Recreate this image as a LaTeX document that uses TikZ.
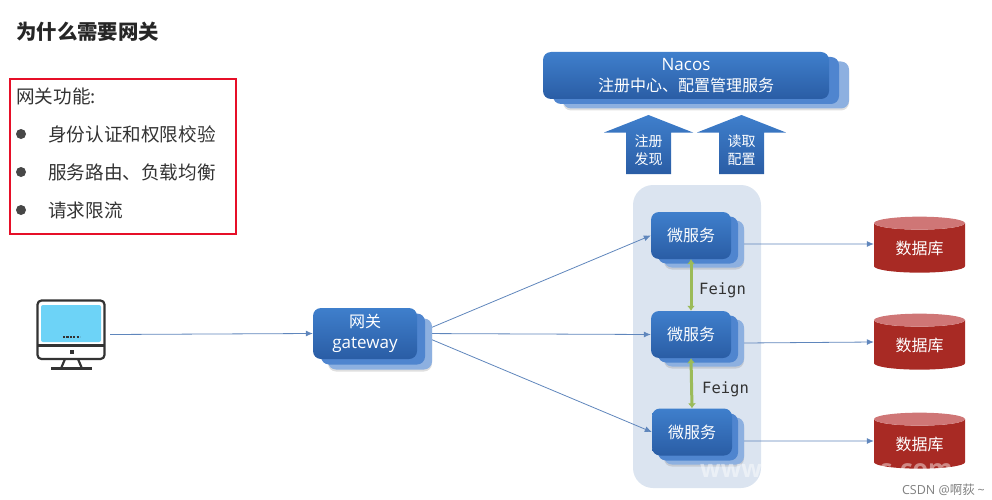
\documentclass[tikz,border=0pt]{standalone}
\usepackage{fontspec}
\setmainfont{Noto Sans CJK SC}
\newfontfamily\latinfont{Open Sans}
\newfontfamily\codefont{DejaVu Sans Mono}
\usetikzlibrary{arrows.meta,shapes.geometric,backgrounds,shadows}

\definecolor{frontblue}{HTML}{3F7FCC}
\definecolor{deepblue}{HTML}{2A5DA5}
\definecolor{midblue}{HTML}{4F85CF}
\definecolor{rearblue}{HTML}{8DB0E0}
\definecolor{panelblue}{HTML}{DBE4F0}
\definecolor{linkblue}{HTML}{5F86BC}
\definecolor{feigngreen}{HTML}{9BBB59}
\definecolor{dbred}{HTML}{A82A24}
\definecolor{dbtop}{HTML}{CF7676}
\definecolor{alertred}{HTML}{E60F28}
\definecolor{inkgray}{HTML}{333333}
\definecolor{screencyan}{HTML}{6DD3F7}

\tikzset{
    box/.style={rounded corners=8pt, inner sep=0pt, text=white, align=center, font=\fontsize{16}{21}\selectfont},
    frontbox/.style={box, top color=frontblue, bottom color=deepblue},
    midbox/.style={box, fill=midblue},
    rearbox/.style={box, fill=rearblue, drop shadow={shadow xshift=0pt, shadow yshift=-2pt, opacity=.25}},
    svcsize/.style={minimum width=80pt, minimum height=47pt},
    gwsize/.style={minimum width=104pt, minimum height=51pt},
    nacossize/.style={minimum width=286pt, minimum height=47pt},
    dbnode/.style={cylinder, shape border rotate=90, aspect=.27, cylinder uses custom fill, cylinder body fill=dbred, cylinder end fill=dbtop, draw=none, inner sep=0pt, minimum width=91pt, minimum height=56pt, text=white, font=\fontsize{16}{20}\selectfont},
    link/.style={draw=linkblue, line width=.8pt, -{Latex[length=7pt,width=6pt]}},
    feignlink/.style={draw=feigngreen, line width=3pt, {Latex[length=5pt,width=8pt]}-{Latex[length=5pt,width=8pt]}},
    feigntext/.style={text=inkgray, font=\codefont\fontsize{15.5}{18}\selectfont},
    uparrow/.style={top color=frontblue, bottom color=deepblue},
    listtext/.style={anchor=west, inner sep=0pt, text=inkgray, font=\fontsize{18.6}{22}\selectfont},
    bulletdot/.style={circle, fill=inkgray!90, inner sep=0pt, minimum size=10pt},
    arrowtext/.style={text=white, align=center, font=\fontsize{14}{18}\selectfont},
    monitorline/.style={draw=inkgray, line width=2.2pt},
    washtext/.style={anchor=base west, inner sep=0pt, text=white, text opacity=.45, font=\latinfont\bfseries}
}

\begin{document}
\begin{tikzpicture}[x=1pt,y=-1pt]
    \useasboundingbox (0,0) rectangle (992,500);

    % title and feature list
    \node[anchor=west, inner sep=0pt, text=black!85, font=\fontsize{20.4}{24}\selectfont\bfseries] (title) at (16,32) {为什么需要网关};
    \node[draw=alertred, line width=1.8pt, minimum width=226pt, minimum height=155pt, inner sep=0pt] (featurebox) at (123,156.5) {};
    \node[listtext] (featurehead) at (16,96) {网关功能:};
    \node[bulletdot] (dota) at (21,134) {};
    \node[bulletdot] (dotb) at (21,172) {};
    \node[bulletdot] (dotc) at (21,210) {};
    \node[listtext] (featurea) at (48,134) {身份认证和权限校验};
    \node[listtext] (featureb) at (48,172) {服务路由、负载均衡};
    \node[listtext] (featurec) at (48,210) {请求限流};

    % nacos
    \node[rearbox, nacossize] (nacosrear) at (706,85) {};
    \node[midbox, nacossize] (nacosmid) at (696,80.5) {};
    \node[frontbox, nacossize] (nacos) at (686,75.5) {{\latinfont\fontsize{17}{21}\selectfont Nacos}\\注册中心、配置管理服务};

    \shade[uparrow] (648.5,115) -- (693,132.5) -- (671,132.5) -- (671,174) -- (626,174) -- (626,132.5) -- (604,132.5) -- cycle;
    \shade[uparrow] (741.5,115) -- (786,132.5) -- (764,132.5) -- (764,174) -- (719,174) -- (719,132.5) -- (697,132.5) -- cycle;
    \node[arrowtext] (regtext) at (648.5,150) {注册\\发现};
    \node[arrowtext] (cfgtext) at (741.5,150) {读取\\配置};

    % microservices
    \node[rearbox, svcsize] (svcarear) at (704,244) {};
    \node[midbox, svcsize] (svcamid) at (698,240) {};
    \node[frontbox, svcsize] (svca) at (691,235.5) {微服务};
    \node[rearbox, svcsize] (svcbrear) at (704,343) {};
    \node[midbox, svcsize] (svcbmid) at (698,339) {};
    \node[frontbox, svcsize] (svcb) at (691,334.5) {微服务};
    \node[rearbox, svcsize] (svccrear) at (704,441) {};
    \node[midbox, svcsize] (svccmid) at (698,437) {};
    \node[frontbox, svcsize] (svcc) at (692,432) {微服务};

    % gateway
    \node[rearbox, gwsize] (gwrear) at (380,344) {};
    \node[midbox, gwsize] (gwmid) at (373,339) {};
    \node[frontbox, gwsize] (gw) at (365,333.5) {网关\\{\latinfont\fontsize{17}{21}\selectfont gateway}};

    % databases
    \node[dbnode] (dba) at (919.5,248) {数据库};
    \node[dbnode] (dbb) at (919.5,345) {数据库};
    \node[dbnode] (dbc) at (919.5,444) {数据库};

    % client
    \node[minimum width=78pt, minimum height=70pt, inner sep=0pt] (client) at (71,334.5) {};
    \filldraw[monitorline, fill=white, rounded corners=4pt] (37.5,300.5) rectangle (104.5,359);
    \fill[screencyan, rounded corners=2pt] (41,305) -- (101,305) -- (101,342) -- (41,342) -- cycle;
    \draw[monitorline] (37.5,345.5) -- (104.5,345.5);
    \fill[inkgray] (69.5,349.5) rectangle (73.5,354);
    \draw[monitorline] (65,359) -- (61,368.5);
    \draw[monitorline] (78,359) -- (82,368.5);
    \draw[monitorline] (51,368.5) -- (92,368.5);
    \draw[inkgray, line width=2pt, dash pattern=on 2.2pt off 1.2pt] (63,337) -- (80,337);

    \begin{pgfonlayer}{background}
        \fill[panelblue, rounded corners=20pt] (633,185) rectangle (761,488);
        \draw[link] (gw.east) -- (svca.west);
        \draw[link] (gw.east) -- (svcb.west);
        \draw[link] (gw.east) -- (svcc.west);
        \draw[link] (svcarear.east) -- ([yshift=4pt]dba.west);
        \draw[link] (svcbrear.east) -- ([yshift=3pt]dbb.west);
        \draw[link] (svccrear.east) -- ([yshift=3pt]dbc.west);
    \end{pgfonlayer}
    \draw[link] (client.east) -- (gw.west);

    \draw[feignlink] (svca.south) -- (svcb.north);
    \draw[feignlink] (svcb.south) -- (svcc.north);
    \node[feigntext, anchor=west, inner sep=0pt] (feigna) at (699,290) {Feign};
    \node[feigntext, anchor=west, inner sep=0pt] (feignb) at (702,389) {Feign};

    % faded site mark across the bottom
    \node[washtext, font=\latinfont\bfseries\fontsize{24}{28}\selectfont] (washa) at (700,477) {www};
    \node[washtext, font=\latinfont\bfseries\fontsize{25}{28}\selectfont] (washb) at (880,477) {s.com};

    \node[anchor=east, inner sep=0pt, text=black!50, font=\fontsize{12.5}{14}\selectfont] (mark) at (985,490) {{\latinfont CSDN @}啊荻 {\latinfont\textasciitilde}};
\end{tikzpicture}
\end{document}
